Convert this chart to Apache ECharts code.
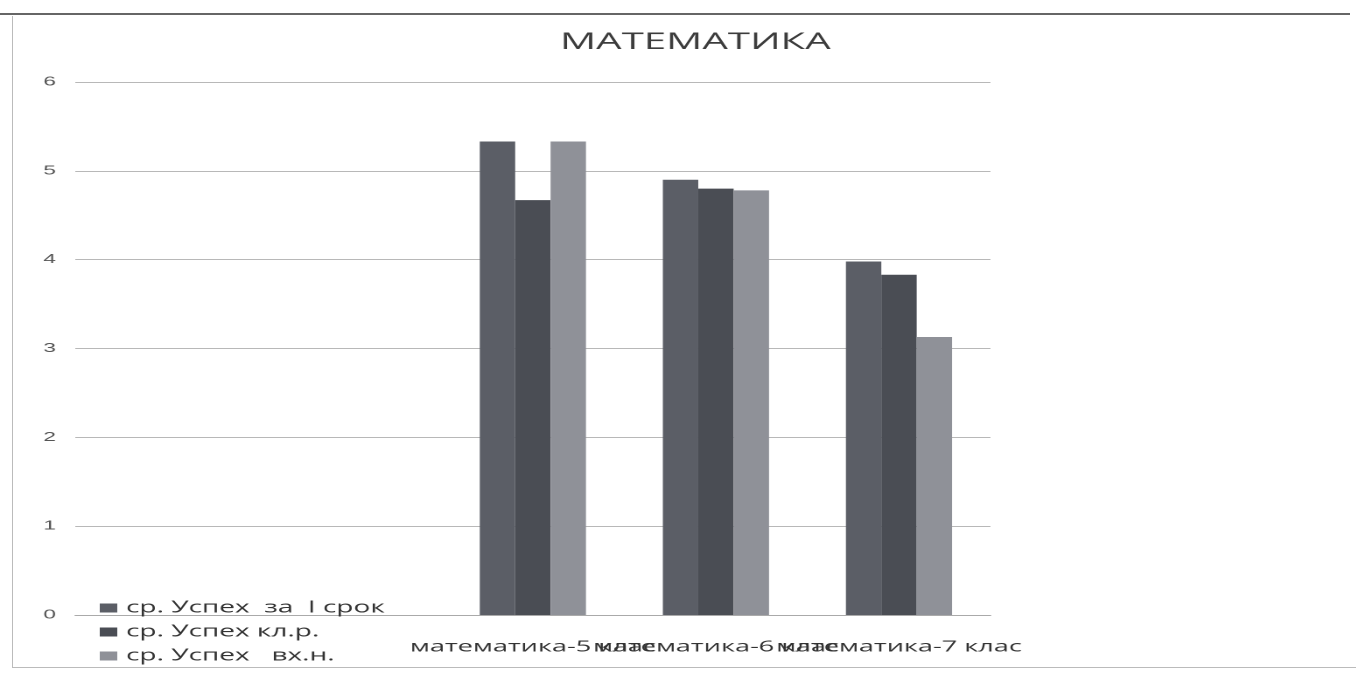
<!DOCTYPE html>
<html>
<head>
<meta charset="utf-8">
<script src="https://cdn.jsdelivr.net/npm/echarts@6/dist/echarts.min.js"></script>
<style>
html,body{margin:0;padding:0;background:#fff;overflow:hidden;}
#topline{position:absolute;left:0;top:0;width:1350px;height:13px;border-bottom:2px solid #666;}
#frame{position:absolute;left:12px;top:16px;width:1344px;height:651px;border-left:1px solid #bbb;border-bottom:1px solid #bbb;}
/* the scanned chart is stretched horizontally; reproduce by scaling the drawing in x */
#chart{position:absolute;left:0;top:0;width:775px;height:678px;transform:scaleX(1.75);transform-origin:0 0;}
</style>
</head>
<body>
<div id="topline"></div>
<div id="frame"></div>
<div id="chart"></div>
<script>
const categories = ["", "", "математика-5 клас", "математика-6 клас", "математика-7 клас"];
const seriesNames = ["ср. Успех  за  I срок", "ср. Успех кл.р.", "ср. Успех   вх.н."];
const term1 = [null, null, 5.33, 4.9, 3.98];
const classWork = [null, null, 4.67, 4.8, 3.83];
const entrance = [null, null, 5.33, 4.78, 3.13];
const yTicks = [0, 1, 2, 3, 4, 5, 6];

const colors = ["#5b5e66", "#4a4d54", "#8f9198"];
const chart = echarts.init(document.getElementById('chart'), null, {renderer: 'canvas', devicePixelRatio: 2});
chart.setOption({
  animation: false,
  title: {
    text: 'МАТЕМАТИКА', left: 315, top: 26,
    textStyle: {fontFamily: 'Open Sans', fontSize: 23, fontWeight: 'normal', color: '#3c3c3c'}
  },
  legend: {
    orient: 'vertical', left: 52, top: 595, itemGap: 8, itemWidth: 10, itemHeight: 9,
    icon: 'rect',
    data: seriesNames,
    textStyle: {fontFamily: 'Open Sans', fontSize: 16, color: '#333'}
  },
  grid: {left: 43, right: 209, top: 82, bottom: 63, containLabel: false},
  xAxis: {
    type: 'category', data: categories,
    axisLine: {show: true, lineStyle: {color: '#aaa'}},
    axisTick: {show: false},
    axisLabel: {interval: 0, fontFamily: 'Open Sans', fontSize: 15.5, color: '#333', margin: 24, hideOverlap: false}
  },
  yAxis: {
    type: 'value', min: yTicks[0], max: yTicks[yTicks.length - 1], interval: 1,
    axisLine: {show: false}, axisTick: {show: false},
    splitLine: {lineStyle: {color: '#b8b8b8', width: 1}},
    axisLabel: {fontFamily: 'Liberation Sans', fontSize: 13, color: '#555', margin: 11}
  },
  series: [
    {name: seriesNames[0], type: 'bar', data: term1, itemStyle: {color: colors[0]}, barGap: '0%', barCategoryGap: '42%'},
    {name: seriesNames[1], type: 'bar', data: classWork, itemStyle: {color: colors[1]}, barGap: '0%', barCategoryGap: '42%'},
    {name: seriesNames[2], type: 'bar', data: entrance, itemStyle: {color: colors[2]}, barGap: '0%', barCategoryGap: '42%'}
  ]
});
</script>
</body>
</html>
